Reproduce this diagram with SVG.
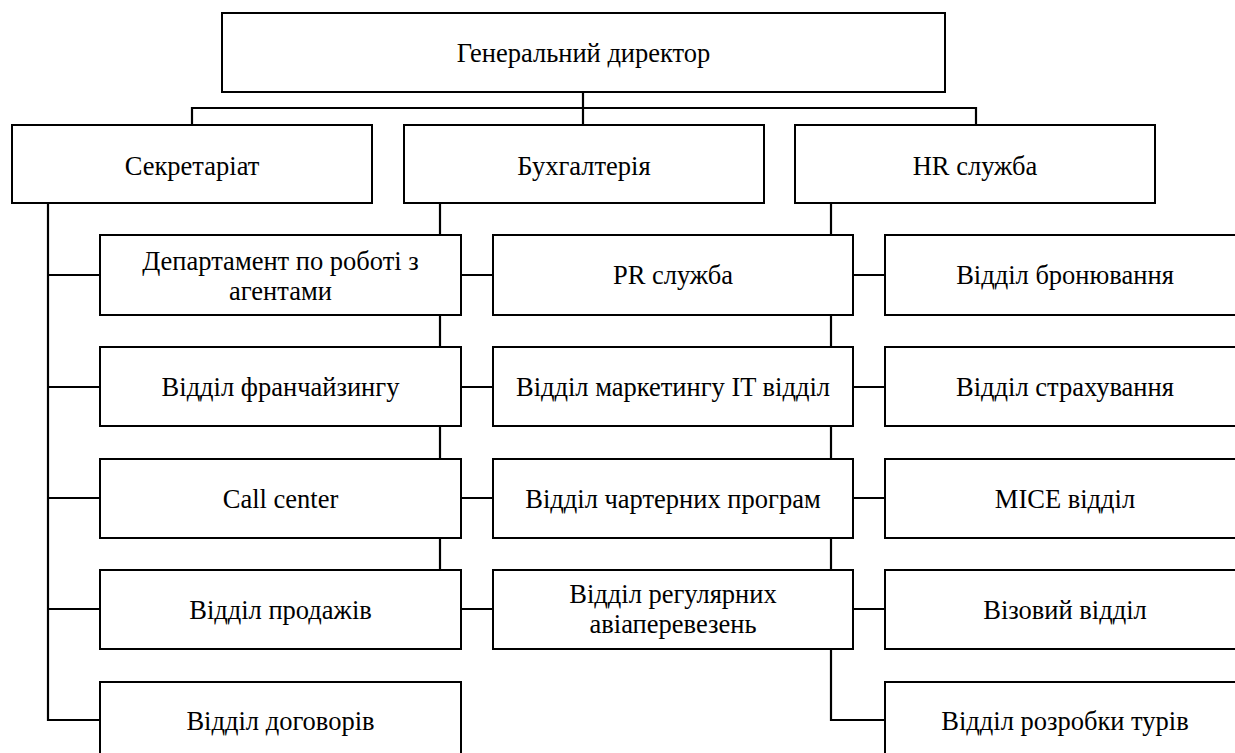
<svg xmlns="http://www.w3.org/2000/svg" width="1235" height="753" viewBox="0 0 1235 753">
<style>
.box{fill:#fff;stroke:#000;stroke-width:2}
.ln{fill:none;stroke:#000;stroke-width:2.2}
</style>
<rect width="1235" height="753" fill="#fff"/>
<g id="connectors">
<path class="ln" d="M583,92V125M192,125V108H976V125"/>
<path class="ln" d="M48,203V720H100M48,275H100M48,387H100M48,498H100M48,609H100"/>
<path class="ln" d="M440,203V609M440,275H493M440,387H493M440,498H493M440,609H493"/>
<path class="ln" d="M831,203V720H885M831,275H885M831,387H885M831,498H885M831,609H885"/>
</g>
<g font-family="Liberation Serif, Times New Roman, DejaVu Serif, serif" font-size="26.5" fill="#000" text-anchor="middle">
<g id="n-gen"><rect class="box" x="222" y="13" width="723" height="79"/><text x="583.5" y="62">Генеральний директор</text></g>
<g id="n-sekr"><rect class="box" x="12" y="125" width="360" height="78"/><text x="192" y="175">Секретаріат</text></g>
<g id="n-buh"><rect class="box" x="404" y="125" width="360" height="78"/><text x="584" y="175">Бухгалтерія</text></g>
<g id="n-hr"><rect class="box" x="795" y="125" width="360" height="78"/><text x="975" y="175">HR служба</text></g>

<g id="n-dep"><rect class="box" x="100" y="235" width="361" height="80"/><text x="280.5" y="270">Департамент по роботі з</text><text x="280.5" y="300">агентами</text></g>
<g id="n-fran"><rect class="box" x="100" y="347" width="361" height="79"/><text x="280.5" y="396">Відділ франчайзингу</text></g>
<g id="n-call"><rect class="box" x="100" y="459" width="361" height="79"/><text x="280.5" y="508">Call center</text></g>
<g id="n-prod"><rect class="box" x="100" y="570" width="361" height="79"/><text x="280.5" y="619">Відділ продажів</text></g>
<g id="n-dog"><rect class="box" x="100" y="682" width="361" height="79"/><text x="280.5" y="730">Відділ договорів</text></g>

<g id="n-pr"><rect class="box" x="493" y="235" width="360" height="80"/><text x="673" y="284">PR служба</text></g>
<g id="n-mark"><rect class="box" x="493" y="347" width="360" height="79"/><text x="673" y="396">Відділ маркетингу IT відділ</text></g>
<g id="n-chart"><rect class="box" x="493" y="459" width="360" height="79"/><text x="673" y="508">Відділ чартерних програм</text></g>
<g id="n-reg"><rect class="box" x="493" y="570" width="360" height="79"/><text x="673" y="603">Відділ регулярних</text><text x="673" y="633">авіаперевезень</text></g>

<g id="n-bron"><rect class="box" x="885" y="235" width="360" height="80"/><text x="1065" y="284">Відділ бронювання</text></g>
<g id="n-strah"><rect class="box" x="885" y="347" width="360" height="79"/><text x="1065" y="396">Відділ страхування</text></g>
<g id="n-mice"><rect class="box" x="885" y="459" width="360" height="79"/><text x="1065" y="508">MICE відділ</text></g>
<g id="n-viz"><rect class="box" x="885" y="570" width="360" height="79"/><text x="1065" y="619">Візовий відділ</text></g>
<g id="n-tur"><rect class="box" x="885" y="682" width="360" height="79"/><text x="1065" y="730">Відділ розробки турів</text></g>
</g>
</svg>
